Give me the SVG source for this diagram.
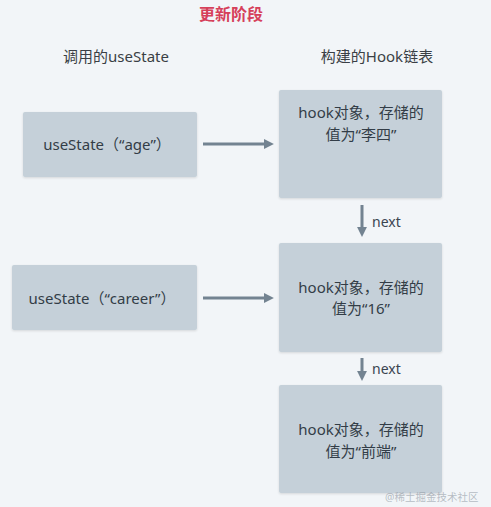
<svg xmlns="http://www.w3.org/2000/svg" width="491" height="507" viewBox="0 0 491 507">
<defs>
<marker id="ah2" viewBox="0 0 10 10" refX="0" refY="5" markerWidth="3.3" markerHeight="3.3" orient="auto">
<path d="M0,0 L10,5 L0,10 Z" fill="#738391"/>
</marker>
<filter id="sh" x="-10%" y="-10%" width="120%" height="130%">
<feDropShadow dx="0" dy="1" stdDeviation="1" flood-color="#000" flood-opacity="0.12"/>
</filter>
</defs>
<style>
text{font-family:"Noto Sans","Noto Sans CJK SC",sans-serif;fill:#333d47}
.lbl{font-size:15px;text-anchor:middle}
.hdr{font-size:15px;text-anchor:middle;fill:#3a3f45}
.box{fill:#c5d0d9;filter:url(#sh)}
.conn{stroke:#738391;stroke-width:3;fill:none;marker-end:url(#ah2)}
.nx{font-size:14px;fill:#3a4450}
</style>
<rect width="491" height="507" fill="#f2f5f8"/>
<text x="231" y="20" style="font-size:16px;font-weight:bold;fill:#d6405a;text-anchor:middle">更新阶段</text>
<text class="hdr" x="116" y="62">调用的useState</text>
<text class="hdr" x="377" y="62">构建的Hook链表</text>
<g id="n1"><rect class="box" x="23" y="112" width="174" height="65" rx="2"/><text class="lbl" x="107" y="150">useState（“age”）</text></g>
<g id="n2"><rect class="box" x="12" y="265" width="185" height="65" rx="2"/><text class="lbl" x="102" y="304">useState（“career”）</text></g>
<g id="h1"><rect class="box" x="279" y="90" width="163" height="108" rx="2"/><text class="lbl" x="361" y="118">hook对象，存储的</text><text class="lbl" x="361" y="140">值为“李四”</text></g>
<g id="h2"><rect class="box" x="279" y="243" width="163" height="109" rx="2"/><text class="lbl" x="361" y="293">hook对象，存储的</text><text class="lbl" x="361" y="314">值为“16”</text></g>
<g id="h3"><rect class="box" x="279" y="385" width="163" height="108" rx="2"/><text class="lbl" x="361" y="435">hook对象，存储的</text><text class="lbl" x="361" y="457">值为“前端”</text></g>
<g id="connectors">
<line class="conn" x1="203" y1="144" x2="264" y2="144"/>
<line class="conn" x1="203" y1="298" x2="264" y2="298"/>
<line class="conn" x1="362" y1="205" x2="362" y2="227"/>
<line class="conn" x1="362" y1="358" x2="362" y2="371"/>
<text class="nx" x="372" y="227">next</text>
<text class="nx" x="372" y="374">next</text>
</g>
<text x="385" y="501" style="font-size:10.5px;fill:#8d96a0;fill-opacity:0.6">@稀土掘金技术社区</text>
</svg>
